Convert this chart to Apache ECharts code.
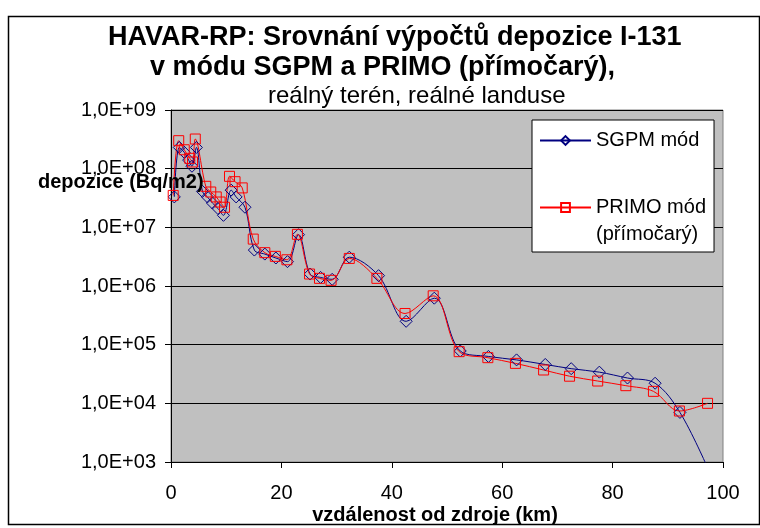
<!DOCTYPE html>
<html>
<head>
<meta charset="utf-8">
<script src="https://cdn.jsdelivr.net/npm/echarts@6/dist/echarts.min.js"></script>
<style>
  html, body { margin: 0; padding: 0; background: #fff; }
  #chart { width: 760px; height: 528px; }
</style>
</head>
<body>
<div id="chart"></div>
<script>
// vzdálenost (km) a depozice (Bq/m2) - SGPM mód
var sgpmKm = [0.6, 1.5, 2.4, 3.2, 3.8, 4.6, 5.7, 6.6, 7.5, 8.5, 9.5, 10.9, 11.8, 13.4, 15.1, 17.0, 19.0, 21.1, 23.1, 25.2, 27.1, 29.2, 32.3, 37.6, 42.6, 47.7, 52.4, 57.5, 62.6, 67.8, 72.5, 77.6, 82.7, 87.7, 92.2, 97.2];
var sgpmVal = [3.3e7, 2.3e8, 1.9e8, 1.4e8, 1.1e8, 2.3e8, 4.1e7, 3.3e7, 2.6e7, 2.1e7, 1.6e7, 4.3e7, 3.3e7, 2.2e7, 4.1e6, 3.5e6, 3.0e6, 2.6e6, 7.5e6, 1.6e6, 1.4e6, 1.3e6, 3.1e6, 1.5e6, 2.5e5, 6.2e5, 7.8e4, 6.3e4, 5.5e4, 4.6e4, 3.9e4, 3.4e4, 2.7e4, 2.2e4, 7.0e3, 8.0e2];

// PRIMO mód (přímočarý)
var primoKm = [0.4, 1.4, 2.4, 3.4, 3.9, 4.4, 6.3, 7.2, 8.2, 8.9, 9.7, 10.6, 11.6, 12.9, 14.9, 17.0, 18.9, 21.0, 22.9, 25.1, 26.9, 29.0, 32.3, 37.3, 42.4, 47.5, 52.2, 57.4, 62.4, 67.5, 72.2, 77.3, 82.4, 87.4, 92.1, 97.2];
var primoVal = [3.5e7, 3.0e8, 2.1e8, 1.5e8, 1.3e8, 3.2e8, 5.0e7, 4.0e7, 3.3e7, 2.7e7, 2.2e7, 7.4e7, 6.0e7, 4.7e7, 6.3e6, 3.7e6, 3.2e6, 2.8e6, 7.6e6, 1.6e6, 1.35e6, 1.25e6, 2.95e6, 1.35e6, 3.4e5, 6.8e5, 7.6e4, 6.0e4, 4.8e4, 3.7e4, 2.9e4, 2.4e4, 2.0e4, 1.6e4, 7.4e3, 1.0e4];

var titleLines = ['HAVAR-RP: Srovnání výpočtů depozice I-131', 'v módu SGPM a PRIMO (přímočarý),', 'reálný terén, reálné landuse'];
var seriesNames = ['SGPM mód', 'PRIMO mód'];

function pairs(xs, ys) {
  return xs.map(function (x, i) { return [x, ys[i]]; });
}

var font = 'Liberation Sans, Arial, sans-serif';
var chart = echarts.init(document.getElementById('chart'), null, { renderer: 'canvas' });

var option = {
  backgroundColor: '#fff',
  animation: false,
  title: [
    { text: titleLines[0], left: 108, top: 24, padding: 0,
      textStyle: { fontFamily: font, fontSize: 27, fontWeight: 'bold', color: '#000' } },
    { text: titleLines[1], left: 150, top: 54, padding: 0,
      textStyle: { fontFamily: font, fontSize: 27, fontWeight: 'bold', color: '#000' } },
    { text: titleLines[2], left: 268, top: 84, padding: 0,
      textStyle: { fontFamily: font, fontSize: 24, fontWeight: 'normal', color: '#000' } }
  ],
  graphic: [
    // rámeček kolem celého grafu
    { type: 'rect', left: 6, top: 14, shape: { width: 751, height: 508 },
      style: { fill: 'none', stroke: '#000', lineWidth: 1.5 }, z: 0 },
    // popisek osy y
    { type: 'text', left: 38, top: 172, z: 100,
      style: { text: 'depozice (Bq/m2)', font: 'bold 20px ' + font, fill: '#000' } }
  ],
  legend: {
    orient: 'vertical',
    left: 532,
    top: 120,
    padding: [7, 8, 4, 7],
    itemWidth: 51,
    itemHeight: 11,
    itemGap: 13,
    backgroundColor: '#fff',
    borderColor: '#000',
    borderWidth: 1,
    textStyle: { fontFamily: font, fontSize: 20, lineHeight: 27, color: '#000' },
    formatter: function (name) {
      return name === 'PRIMO mód' ? '\nPRIMO mód\n(přímočarý)' : name;
    },
    data: seriesNames
  },
  grid: {
    left: 171,
    right: 37,
    top: 110,
    bottom: 66,
    outerBoundsMode: 'none',
    show: true,
    backgroundColor: '#c0c0c0',
    borderColor: '#808080',
    borderWidth: 1
  },
  xAxis: {
    type: 'value',
    min: 0,
    max: 100,
    interval: 20,
    name: 'vzdálenost od zdroje (km)',
    nameLocation: 'middle',
    nameGap: 43,
    nameMoveOverlap: false,
    nameTextStyle: { fontFamily: font, fontSize: 20, fontWeight: 'bold', color: '#000', padding: [0, 24, 0, 0] },
    axisLine: { lineStyle: { color: '#000', width: 1 } },
    axisTick: { show: true, inside: false, length: 6, lineStyle: { color: '#000' } },
    axisLabel: { fontFamily: font, fontSize: 20, color: '#000', margin: 21 },
    splitLine: { show: false }
  },
  yAxis: {
    type: 'log',
    logBase: 10,
    min: 1e3,
    max: 1e9,
    axisLine: { show: true, lineStyle: { color: '#000', width: 1 } },
    axisTick: { show: true, inside: false, length: 6, lineStyle: { color: '#000' } },
    axisLabel: {
      fontFamily: font, fontSize: 20, color: '#000', margin: 15,
      formatter: function (v) {
        var e = Math.round(Math.log10(v));
        return '1,0E+' + (e < 10 ? '0' : '') + e;
      }
    },
    minorTick: { show: false },
    splitLine: { show: true, lineStyle: { color: '#000', width: 1 } }
  },
  series: [
    {
      name: seriesNames[0],
      type: 'line',
      smooth: 0.35,
      clip: true,
      symbol: 'diamond',
      symbolSize: 12,
      lineStyle: { color: '#000080', width: 1 },
      itemStyle: { color: 'rgba(0,0,0,0)', borderColor: '#000080', borderWidth: 1 },
      data: pairs(sgpmKm, sgpmVal)
    },
    {
      name: seriesNames[1],
      type: 'line',
      smooth: 0.35,
      clip: true,
      symbol: 'rect',
      symbolSize: 10,
      lineStyle: { color: '#ff0000', width: 1 },
      itemStyle: { color: 'rgba(0,0,0,0)', borderColor: '#ff0000', borderWidth: 1 },
      data: pairs(primoKm, primoVal)
    }
  ]
};

chart.setOption(option);
</script>
</body>
</html>
